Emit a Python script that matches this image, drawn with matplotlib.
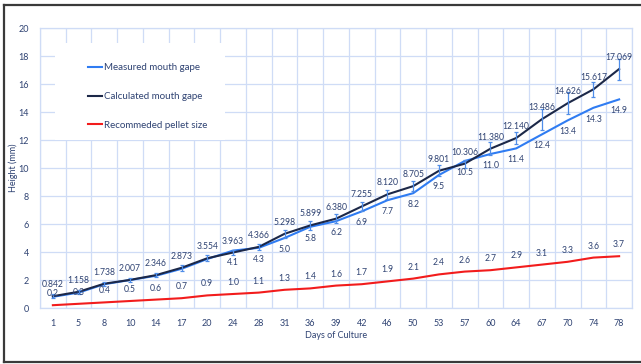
import numpy as np
import matplotlib
matplotlib.use("Agg")
import matplotlib.pyplot as plt
from matplotlib.lines import Line2D
from matplotlib.patches import Rectangle

plt.rcParams['font.family'] = ['Lato', 'DejaVu Sans']

# Culture day categories
days = ["1", "5", "8", "10", "14", "17", "20", "24", "28", "31", "36", "39",
        "42", "46", "50", "53", "57", "60", "64", "67", "70", "74", "78"]

# Mouth gape (mm)
measured = [0.8, 1.1, 1.7, 2.0, 2.3, 2.8, 3.5, 4.1, 4.3, 5.0, 5.8, 6.2,
            6.9, 7.7, 8.2, 9.5, 10.5, 11.0, 11.4, 12.4, 13.4, 14.3, 14.9]
calculated = [0.842, 1.158, 1.738, 2.007, 2.346, 2.873, 3.554, 3.963, 4.366,
              5.298, 5.899, 6.380, 7.255, 8.120, 8.705, 9.801, 10.306, 11.380,
              12.140, 13.486, 14.626, 15.617, 17.069]
calc_err = [0.15, 0.15, 0.15, 0.15, 0.15, 0.2, 0.2, 0.2, 0.2, 0.3, 0.3, 0.3,
            0.35, 0.3, 0.35, 0.4, 0.3, 0.45, 0.45, 0.75, 0.8, 0.55, 0.75]
pellet = [0.2, 0.3, 0.4, 0.5, 0.6, 0.7, 0.9, 1.0, 1.1, 1.3, 1.4, 1.6,
          1.7, 1.9, 2.1, 2.4, 2.6, 2.7, 2.9, 3.1, 3.3, 3.6, 3.7]
# measured values are annotated from this day index onward
measured_label_start = 7

c_meas = '#2f7cf2'
c_calc = '#1c2848'
c_pellet = '#f21c1c'
c_err = '#4f8de8'
c_text = '#2e4272'
c_grid = '#cfdcf6'

W, H = 641, 364
fig = plt.figure(figsize=(W / 100, H / 100), dpi=100)
ax = fig.add_axes([40 / W, 1 - 308 / H, 592 / W, 280 / H])

x = np.arange(len(days))
ax.set_xlim(-0.5, len(days) - 0.5)
ax.set_ylim(0, 20)

ax.set_xticks(x)
ax.set_xticklabels(days)
ax.set_xticks(np.arange(-0.5, len(days), 1), minor=True)
ax.set_yticks(np.arange(0, 21, 2))
ax.tick_params(axis='both', which='both', length=0, labelsize=6.5,
               labelcolor=c_text)
ax.tick_params(axis='x', pad=8)
ax.tick_params(axis='y', pad=8)
ax.grid(axis='x', which='minor', color=c_grid, lw=0.9)
ax.grid(axis='y', which='major', color=c_grid, lw=0.9)
ax.set_axisbelow(True)
for s in ax.spines.values():
    s.set_color(c_grid)
    s.set_linewidth(0.9)

ax.set_xlabel("Days of Culture", fontsize=6.5, color=c_text, labelpad=2)
ax.set_ylabel("Height (mm)", fontsize=6.5, color=c_text)
ax.yaxis.set_label_coords(-0.037, 0.5)

# white backing behind the legend
ax.add_patch(Rectangle((55 / W, 1 - 140 / H), 170 / W, 97 / H,
                       transform=fig.transFigure, facecolor='white',
                       edgecolor='none', zorder=1))

ax.plot(x, pellet, color=c_pellet, lw=1.5, zorder=3)
ax.plot(x, measured, color=c_meas, lw=1.5, zorder=3)
ax.plot(x, calculated, color=c_calc, lw=1.5, zorder=4)
ax.errorbar(x, calculated, yerr=calc_err, fmt='none', ecolor=c_err,
            elinewidth=0.9, capsize=1.5, capthick=0.9, zorder=5)

for i in range(len(days)):
    ax.annotate(f"{calculated[i]:.3f}", (x[i], calculated[i]),
                xytext=(0, 5), textcoords='offset points', ha='center',
                va='bottom', fontsize=6.2, color=c_text, zorder=6)
    ax.annotate(f"{pellet[i]:.1f}", (x[i], pellet[i]),
                xytext=(0, 5), textcoords='offset points', ha='center',
                va='bottom', fontsize=6.2, color=c_text, zorder=6)
    if i >= measured_label_start:
        ax.annotate(f"{measured[i]:.1f}", (x[i], measured[i]),
                    xytext=(0, -5), textcoords='offset points', ha='center',
                    va='top', fontsize=6.2, color=c_text, zorder=6)

handles = [Line2D([], [], color=c_meas, lw=1.5),
           Line2D([], [], color=c_calc, lw=1.5),
           Line2D([], [], color=c_pellet, lw=1.5)]
leg = ax.legend(handles, ["Measured mouth gape", "Calculated mouth gape",
                          "Recommeded pellet size"],
                loc='upper left', bbox_to_anchor=(88 / W, 1 - 63 / H),
                bbox_transform=fig.transFigure, frameon=False, fontsize=7,
                borderpad=0, borderaxespad=0, handlelength=1.45,
                handletextpad=0.2, labelspacing=2.05, labelcolor=c_text)
leg.set_zorder(7)

# outer frame of the figure
for xs, ys in [((4, 4), (5, 362)), ((4, W), (5, 5)), ((4, W), (362, 362))]:
    fig.add_artist(Line2D([v / W for v in xs], [1 - v / H for v in ys],
                          color='#3a3a3a', lw=1.6))

fig.savefig("out.png", dpi=100)
